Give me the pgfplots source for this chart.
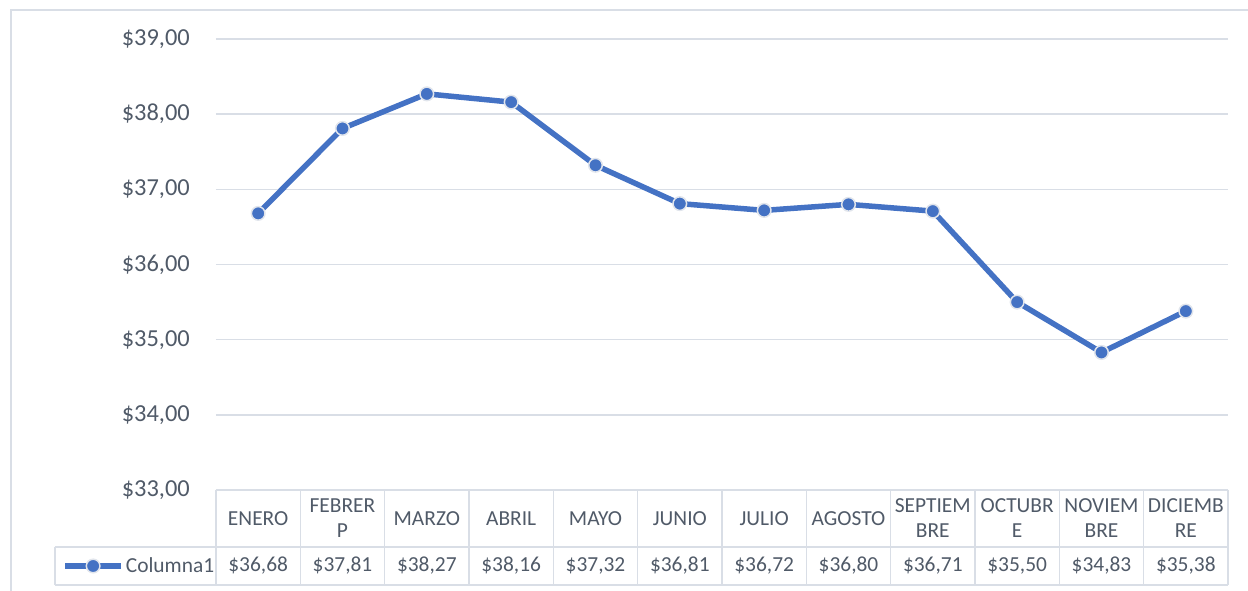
\documentclass[border=0pt]{standalone}
\usepackage{pgfplots}
\pgfplotsset{compat=1.18}
\usepackage{fontspec}
\setmainfont{Carlito}
\definecolor{linec}{RGB}{68,114,196}
\definecolor{gridc}{RGB}{217,222,230}
\definecolor{txtc}{RGB}{80,90,104}
\definecolor{mkb}{RGB}{225,229,236}
\begin{document}
\begin{tikzpicture}
\begin{axis}[
  scale only axis, width=1012bp, height=451bp,
  xmin=-0.5, xmax=11.5, ymin=33, ymax=39,
  axis line style={draw=none},
  xtick=\empty,
  ytick={33,34,35,36,37,38,39},
  yticklabels={{\$33,00},{\$34,00},{\$35,00},{\$36,00},{\$37,00},{\$38,00},{\$39,00}},
  yticklabel style={font=\fontsize{24.5}{28}\selectfont, text=txtc, anchor=east, inner sep=0pt, xshift=-26bp},
  major tick length=0pt,
  ymajorgrids, grid style={gridc, line width=1.5bp},
  clip=false,
  legend style={at={(axis description cs:-0.152,-0.1685)}, anchor=west, draw=none, fill=none, inner sep=0pt,
    font=\fontsize{21.5}{25}\selectfont, text=txtc, nodes={inner sep=2bp}},
  legend image code/.code={\draw[#1, mark=none] (0bp,0bp) -- (56bp,0bp);
    \draw[#1, line width=1.2bp] plot coordinates {(28bp,0bp)};},
]
\addplot[linec, line width=5.5bp, mark=*, mark size=6.8bp,
  mark options={fill=linec, draw=mkb, line width=1.5bp}]
  coordinates {(0,36.68) (1,37.81) (2,38.27) (3,38.16) (4,37.32) (5,36.81)
               (6,36.72) (7,36.80) (8,36.71) (9,35.50) (10,34.83) (11,35.38)};
\addlegendentry{Columna1}
\coordinate (O) at (rel axis cs:0,0);
\end{axis}
\pgfresetboundingbox
\begin{scope}[shift={(O)}, xshift=-216bp, yshift=-101bp, x=1bp, y=1bp]
\path[use as bounding box] (0,0) rectangle (1248,591);
\draw[gridc, line width=1.5bp] (11,0) -- (11,581) -- (1248,581);
% data table
\draw[gridc, line width=1.5bp] (216,101) -- (1228,101);
\draw[gridc, line width=1.5bp] (55,44) -- (1228,44);
\draw[gridc, line width=1.5bp] (55,6) -- (1228,6);
\draw[gridc, line width=1.5bp] (55,44) -- (55,6);
\foreach \k in {0,...,12} {
  \draw[gridc, line width=1.5bp] ({216+84.333*\k},101) -- ({216+84.333*\k},6);
}
\foreach \lab [count=\i from 0] in {ENERO,{FEBRER\\P},MARZO,ABRIL,MAYO,JUNIO,JULIO,AGOSTO,{SEPTIEM\\BRE},{OCTUBR\\E},{NOVIEM\\BRE},{DICIEMB\\RE}} {
  \node[text=txtc, font=\fontsize{21.5}{25}\selectfont, align=center, inner sep=0pt] at ({216+84.333*(\i+0.5)},72.5) {\lab};
}
\foreach \v [count=\i from 0] in {{36,68},{37,81},{38,27},{38,16},{37,32},{36,81},{36,72},{36,80},{36,71},{35,50},{34,83},{35,38}} {
  \node[text=txtc, font=\fontsize{21.5}{25}\selectfont, inner sep=0pt] at ({216+84.333*(\i+0.5)},25) {\$\v};
}
\end{scope}
\end{tikzpicture}
\end{document}
